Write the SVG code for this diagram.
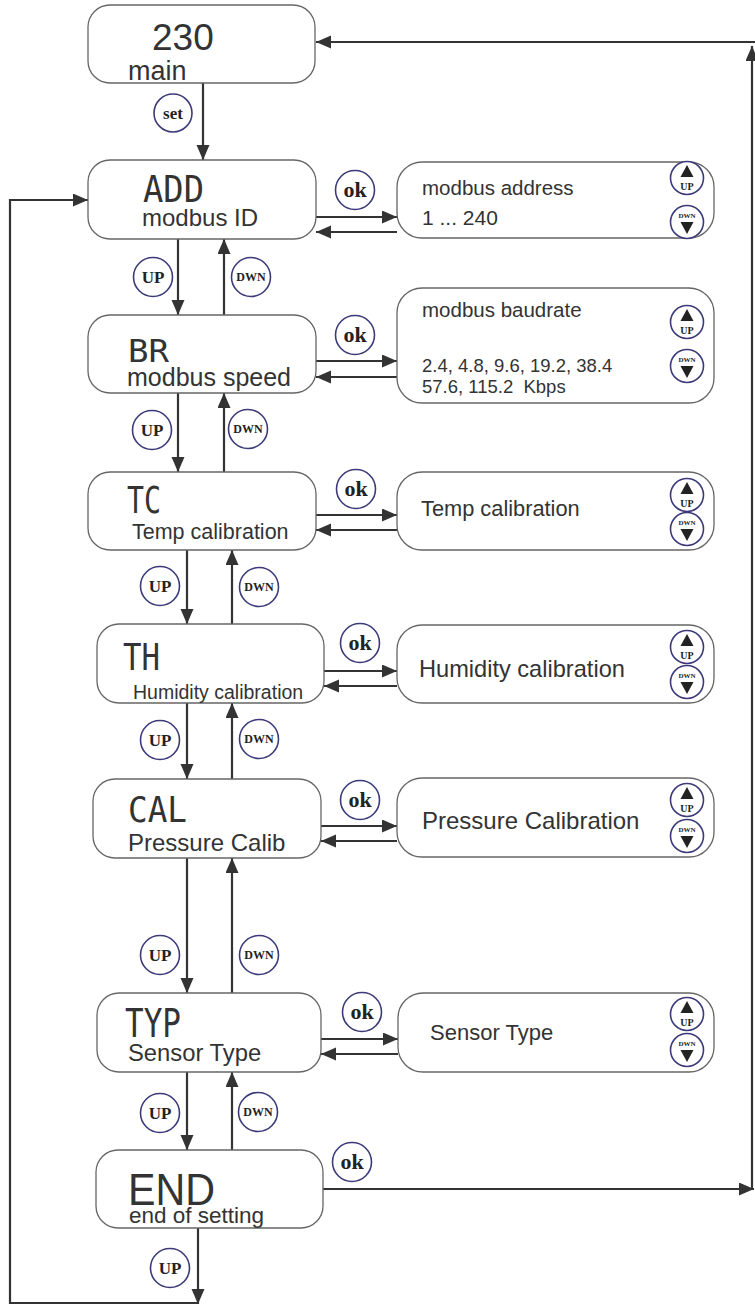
<svg xmlns="http://www.w3.org/2000/svg" xmlns:xlink="http://www.w3.org/1999/xlink" width="755" height="1306" viewBox="0 0 755 1306">
<style>
.box{fill:#fff;stroke:#666;stroke-width:1.3}
.ln{stroke:#333;stroke-width:2.2;fill:none}
.btn{fill:#fff;stroke:#3b3b7a;stroke-width:1.6}
.bl{font-family:"Liberation Serif",serif;font-weight:bold;fill:#222;text-anchor:middle}
.t{font-family:"Liberation Sans",Arial,sans-serif;fill:#333}
.seg{font-family:"DejaVu Sans Mono",monospace;fill:#333}
.tri{fill:#222}
</style>
<defs>
<marker id="ah" markerUnits="userSpaceOnUse" markerWidth="16" markerHeight="14" refX="15" refY="6.5" orient="auto">
<path d="M0,0 L15,6.5 L0,13 z" fill="#333"/>
</marker>
<g id="upbtn">
<circle class="btn" r="16.5"/>
<polygon class="tri" points="0,-13 -6.5,-1 6.5,-1"/>
<text class="bl" y="12" font-size="10">UP</text>
</g>
<g id="dwnbtn">
<circle class="btn" r="16.5"/>
<text class="bl" y="-4" font-size="7">DWN</text>
<polygon class="tri" points="-6.5,0 6.5,0 0,12"/>
</g>
</defs>
<rect width="755" height="1306" fill="#fff"/>

<g id="connectors">
<line class="ln" x1="203" y1="83" x2="203" y2="160" marker-end="url(#ah)"/>
<line class="ln" x1="178" y1="239" x2="178" y2="315" marker-end="url(#ah)"/>
<line class="ln" x1="224" y1="315" x2="224" y2="239" marker-end="url(#ah)"/>
<line class="ln" x1="178" y1="393" x2="178" y2="472" marker-end="url(#ah)"/>
<line class="ln" x1="224" y1="472" x2="224" y2="393" marker-end="url(#ah)"/>
<line class="ln" x1="187" y1="550" x2="187" y2="624" marker-end="url(#ah)"/>
<line class="ln" x1="232" y1="624" x2="232" y2="550" marker-end="url(#ah)"/>
<line class="ln" x1="187" y1="703" x2="187" y2="779" marker-end="url(#ah)"/>
<line class="ln" x1="232" y1="779" x2="232" y2="703" marker-end="url(#ah)"/>
<line class="ln" x1="187" y1="858" x2="187" y2="993" marker-end="url(#ah)"/>
<line class="ln" x1="232" y1="993" x2="232" y2="858" marker-end="url(#ah)"/>
<line class="ln" x1="187" y1="1072" x2="187" y2="1150" marker-end="url(#ah)"/>
<line class="ln" x1="232" y1="1150" x2="232" y2="1072" marker-end="url(#ah)"/>
<line class="ln" x1="198" y1="1228" x2="198" y2="1304" marker-end="url(#ah)"/>
<polyline class="ln" points="198,1303 10,1303 10,200 88,200" marker-end="url(#ah)"/>

<line class="ln" x1="316" y1="217" x2="397" y2="217" marker-end="url(#ah)"/>
<line class="ln" x1="397" y1="232" x2="316" y2="232" marker-end="url(#ah)"/>
<line class="ln" x1="316" y1="361" x2="397" y2="361" marker-end="url(#ah)"/>
<line class="ln" x1="397" y1="377" x2="316" y2="377" marker-end="url(#ah)"/>
<line class="ln" x1="316" y1="515" x2="397" y2="515" marker-end="url(#ah)"/>
<line class="ln" x1="397" y1="530" x2="316" y2="530" marker-end="url(#ah)"/>
<line class="ln" x1="324" y1="671" x2="397" y2="671" marker-end="url(#ah)"/>
<line class="ln" x1="397" y1="686" x2="324" y2="686" marker-end="url(#ah)"/>
<line class="ln" x1="321" y1="826" x2="397" y2="826" marker-end="url(#ah)"/>
<line class="ln" x1="397" y1="841" x2="321" y2="841" marker-end="url(#ah)"/>
<line class="ln" x1="321" y1="1039" x2="398" y2="1039" marker-end="url(#ah)"/>
<line class="ln" x1="398" y1="1054" x2="321" y2="1054" marker-end="url(#ah)"/>
<line class="ln" x1="323" y1="1189" x2="754" y2="1189" marker-end="url(#ah)"/>
<line class="ln" x1="752" y1="1189" x2="752" y2="46" marker-end="url(#ah)"/>
<line class="ln" x1="755" y1="42" x2="316" y2="42" marker-end="url(#ah)"/>

<circle class="btn" cx="173" cy="113" r="19"/><text class="bl" x="173" y="119" font-size="17">set</text>
<circle class="btn" cx="153" cy="277" r="19.5"/><text class="bl" x="153" y="283" font-size="17">UP</text>
<circle class="btn" cx="251" cy="277" r="19.5"/><text class="bl" x="251" y="281" font-size="12">DWN</text>
<circle class="btn" cx="152" cy="430" r="19.5"/><text class="bl" x="152" y="436" font-size="17">UP</text>
<circle class="btn" cx="248" cy="429" r="19.5"/><text class="bl" x="248" y="433" font-size="12">DWN</text>
<circle class="btn" cx="160" cy="586" r="19.5"/><text class="bl" x="160" y="592" font-size="17">UP</text>
<circle class="btn" cx="259" cy="587" r="19.5"/><text class="bl" x="259" y="591" font-size="12">DWN</text>
<circle class="btn" cx="160" cy="740" r="19.5"/><text class="bl" x="160" y="746" font-size="17">UP</text>
<circle class="btn" cx="259" cy="739" r="19.5"/><text class="bl" x="259" y="743" font-size="12">DWN</text>
<circle class="btn" cx="160" cy="955" r="19.5"/><text class="bl" x="160" y="961" font-size="17">UP</text>
<circle class="btn" cx="259" cy="955" r="19.5"/><text class="bl" x="259" y="959" font-size="12">DWN</text>
<circle class="btn" cx="160" cy="1113" r="19.5"/><text class="bl" x="160" y="1119" font-size="17">UP</text>
<circle class="btn" cx="258" cy="1112" r="19.5"/><text class="bl" x="258" y="1116" font-size="12">DWN</text>
<circle class="btn" cx="170" cy="1268" r="19.5"/><text class="bl" x="170" y="1274" font-size="17">UP</text>

<circle class="btn" cx="355" cy="190" r="19.5"/><text class="bl" x="355" y="197" font-size="22">ok</text>
<circle class="btn" cx="355" cy="335" r="19.5"/><text class="bl" x="355" y="342" font-size="22">ok</text>
<circle class="btn" cx="356" cy="489" r="19.5"/><text class="bl" x="356" y="496" font-size="22">ok</text>
<circle class="btn" cx="360" cy="643" r="19.5"/><text class="bl" x="360" y="650" font-size="22">ok</text>
<circle class="btn" cx="360" cy="800" r="19.5"/><text class="bl" x="360" y="807" font-size="22">ok</text>
<circle class="btn" cx="362" cy="1012" r="19.5"/><text class="bl" x="362" y="1019" font-size="22">ok</text>
<circle class="btn" cx="352" cy="1162" r="19.5"/><text class="bl" x="352" y="1169" font-size="22">ok</text>
</g>

<g id="main">
<rect class="box" x="88" y="5" width="227" height="78" rx="22"/>
<text class="t" x="152" y="50" font-size="37">230</text>
<text class="t" x="128" y="80" font-size="27">main</text>
</g>
<g id="add">
<rect class="box" x="88" y="160" width="228" height="79" rx="22"/>
<text class="seg" transform="translate(143,202) scale(1,1.25)" font-size="30" textLength="61" lengthAdjust="spacingAndGlyphs">ADD</text>
<text class="t" x="142" y="226" font-size="24">modbus ID</text>
</g>
<g id="br">
<rect class="box" x="88" y="315" width="228" height="78" rx="22"/>
<text class="seg" transform="translate(128,362) scale(1,1.25)" font-size="26" textLength="41" lengthAdjust="spacingAndGlyphs">BR</text>
<text class="t" x="127" y="386" font-size="25">modbus speed</text>
</g>
<g id="tc">
<rect class="box" x="88" y="472" width="228" height="78" rx="22"/>
<text class="seg" transform="translate(127,513) scale(1,1.25)" font-size="30" textLength="34" lengthAdjust="spacingAndGlyphs">TC</text>
<text class="t" x="132" y="539" font-size="21.5">Temp calibration</text>
</g>
<g id="th">
<rect class="box" x="97" y="624" width="227" height="79" rx="22"/>
<text class="seg" transform="translate(123,670) scale(1,1.25)" font-size="30" textLength="37" lengthAdjust="spacingAndGlyphs">TH</text>
<text class="t" x="133" y="699" font-size="19.5">Humidity calibration</text>
</g>
<g id="cal">
<rect class="box" x="93" y="779" width="228" height="79" rx="22"/>
<text class="seg" transform="translate(128,822) scale(1,1.25)" font-size="29" textLength="59" lengthAdjust="spacingAndGlyphs">CAL</text>
<text class="t" x="128" y="851" font-size="24">Pressure Calib</text>
</g>
<g id="typ">
<rect class="box" x="97" y="993" width="224" height="79" rx="22"/>
<text class="seg" transform="translate(125,1037) scale(1,1.25)" font-size="31" textLength="56" lengthAdjust="spacingAndGlyphs">TYP</text>
<text class="t" x="128" y="1061" font-size="23.8">Sensor Type</text>
</g>
<g id="end">
<rect class="box" x="96" y="1150" width="227" height="78" rx="22"/>
<text class="t" x="128" y="1205" font-size="44" textLength="87" lengthAdjust="spacingAndGlyphs">END</text>
<text class="t" x="129" y="1223" font-size="22.5">end of setting</text>
</g>

<g id="addr">
<rect class="box" x="397" y="162" width="317" height="76" rx="25"/>
<text class="t" x="422" y="195" font-size="20.5">modbus address</text>
<text class="t" x="422" y="225" font-size="21">1 ... 240</text>
<use xlink:href="#upbtn" x="687" y="178"/>
<use xlink:href="#dwnbtn" x="687" y="222"/>
</g>
<g id="baud">
<rect class="box" x="397" y="288" width="317" height="115" rx="25"/>
<text class="t" x="422" y="317" font-size="20.5">modbus baudrate</text>
<text class="t" x="422" y="372" font-size="18.5">2.4, 4.8, 9.6, 19.2, 38.4</text>
<text class="t" x="422" y="393" font-size="18.5" xml:space="preserve">57.6, 115.2  Kbps</text>
<use xlink:href="#upbtn" x="687" y="322"/>
<use xlink:href="#dwnbtn" x="687" y="366"/>
</g>
<g id="tempcal">
<rect class="box" x="397" y="472" width="317" height="78" rx="25"/>
<text class="t" x="421" y="516" font-size="21.8">Temp calibration</text>
<use xlink:href="#upbtn" x="687" y="495"/>
<use xlink:href="#dwnbtn" x="687" y="529"/>
</g>
<g id="humcal">
<rect class="box" x="397" y="625" width="317" height="78" rx="25"/>
<text class="t" x="419" y="677" font-size="23.6">Humidity calibration</text>
<use xlink:href="#upbtn" x="687" y="647"/>
<use xlink:href="#dwnbtn" x="687" y="682"/>
</g>
<g id="prescal">
<rect class="box" x="397" y="778" width="317" height="79" rx="25"/>
<text class="t" x="422" y="829" font-size="24">Pressure Calibration</text>
<use xlink:href="#upbtn" x="687" y="800"/>
<use xlink:href="#dwnbtn" x="687" y="836"/>
</g>
<g id="sensor">
<rect class="box" x="398" y="993" width="316" height="79" rx="25"/>
<text class="t" x="430" y="1040" font-size="22">Sensor Type</text>
<use xlink:href="#upbtn" x="687" y="1014"/>
<use xlink:href="#dwnbtn" x="687" y="1050"/>
</g>
</svg>
